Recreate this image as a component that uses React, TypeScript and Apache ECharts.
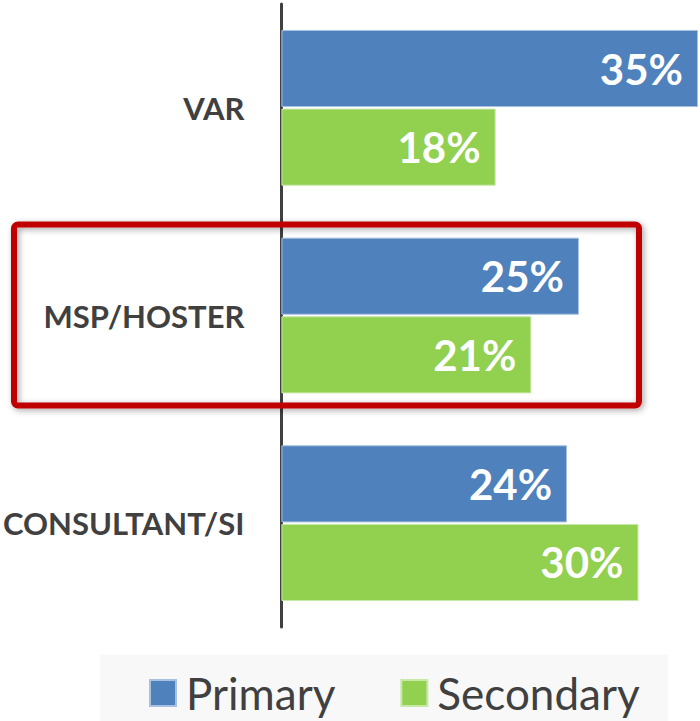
import React, { useEffect, useRef } from "react";
import * as echarts from "echarts";

const categories = ["VAR", "MSP/HOSTER", "CONSULTANT/SI"];
const primaryValues = [35, 25, 24];
const secondaryValues = [18, 21, 30];
const seriesNames = ["Primary", "Secondary"];

const FONT = "Lato, 'Open Sans', sans-serif";

export default function App() {
  const ref = useRef<HTMLDivElement>(null);
  useEffect(() => {
    if (!ref.current) return;
    const chart = echarts.init(ref.current, null, { renderer: "svg" });
    const labelCfg = {
      show: true,
      position: "insideRight",
      distance: 15,
      color: "#ffffff",
      fontSize: 42,
      fontWeight: "bold",
      fontFamily: FONT,
      formatter: (p: any) => p.value + "%",
    };
    chart.setOption({
      animation: false,
      backgroundColor: "#ffffff",
      grid: { left: 280, right: 2, top: 4, bottom: 94, containLabel: false },
      xAxis: {
        type: "value",
        min: 0,
        max: 35,
        show: false,
        splitLine: { show: false },
      },
      yAxis: {
        type: "category",
        data: categories,
        inverse: true,
        axisLine: { show: true, lineStyle: { color: "#404040", width: 3 } },
        axisTick: { show: false },
        axisLabel: {
          margin: 37,
          fontSize: 31,
          fontWeight: "bold",
          color: "#404040",
          fontFamily: FONT,
        },
      },
      legend: {
        data: seriesNames,
        left: 149,
        top: 671,
        padding: 0,
        itemWidth: 26,
        itemHeight: 26,
        itemGap: 65,
        icon: "rect",
        textStyle: {
          fontSize: 44,
          lineHeight: 44,
          color: "#404040",
          fontFamily: FONT,
          padding: [0, 0, 0, 5],
        },
      },
      graphic: [
        {
          type: "rect",
          left: 100,
          top: 655,
          z: -10,
          shape: { width: 568, height: 66 },
          style: { fill: "#F8F8F8" },
        },
        {
          type: "rect",
          x: 14,
          y: 224.5,
          z: 100,
          shape: { width: 625, height: 181, r: 4 },
          style: {
            fill: "transparent",
            stroke: "#C00000",
            lineWidth: 6,
            shadowBlur: 6,
            shadowColor: "rgba(0,0,0,0.35)",
            shadowOffsetX: 2,
            shadowOffsetY: 2,
          },
        },
      ],
      series: [
        {
          name: seriesNames[0],
          type: "bar",
          data: primaryValues,
          barCategoryGap: "25%",
          barGap: "2%",
          itemStyle: { color: "#4F81BD", borderColor: "#A9C1E0", borderWidth: 1 },
          label: labelCfg,
        },
        {
          name: seriesNames[1],
          type: "bar",
          data: secondaryValues,
          barCategoryGap: "25%",
          barGap: "2%",
          itemStyle: { color: "#92D050", borderColor: "#C8E8A8", borderWidth: 1 },
          label: labelCfg,
        },
      ],
    });
    return () => chart.dispose();
  }, []);
  return (
    <div
      ref={ref}
      style={{ position: "fixed", left: 0, top: 0, width: 700, height: 721 }}
    />
  );
}
